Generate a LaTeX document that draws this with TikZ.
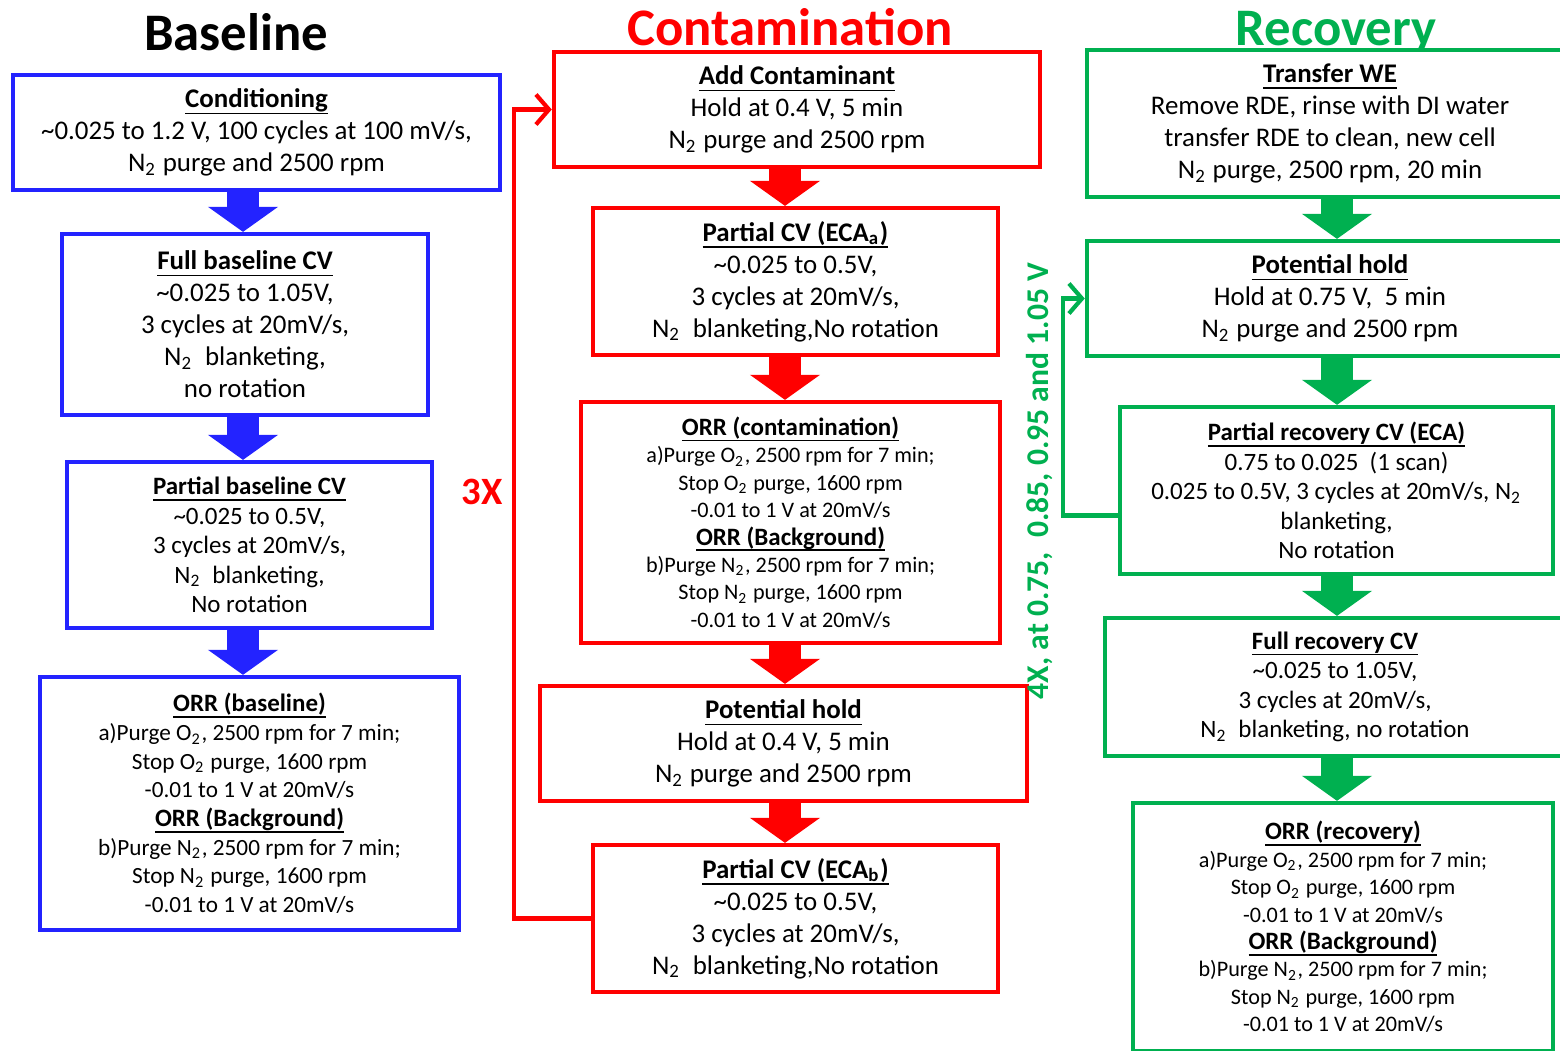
\documentclass[tikz,border=0pt]{standalone}
\usepackage{fontspec}
\setmainfont{Carlito}
\usetikzlibrary{arrows.meta,calc}

\definecolor{blflow}{HTML}{2323FF}
\definecolor{ctflow}{HTML}{FF0000}
\definecolor{rcflow}{HTML}{00B050}

% bold step name with a tight underline
\newlength\titlelen
\newcommand\steptitle[1]{\settowidth\titlelen{\textbf{#1}}\textbf{#1}\llap{\rule[-0.24em]{\titlelen}{0.45pt}}}
\newcommand\bigtxt{\fontsize{7.65pt}{9.1pt}\selectfont}
\newcommand\midtxt{\fontsize{7.1pt}{8.4pt}\selectfont}
\newcommand\orrtxt{\fontsize{6.6pt}{8.15pt}\selectfont}
\newcommand\smalltxt{\fontsize{6.3pt}{7.8pt}\selectfont}
\newcommand\orrhead[1]{{\fontsize{7.1pt}{7.8pt}\selectfont\steptitle{#1}}}
\newcommand\Ntwo{N\textsubscript{2}}
\newcommand\Otwo{O\textsubscript{2}}

\begin{document}
\begin{tikzpicture}[x=0.01cm, y=-0.01cm,
    procbox/.style={draw, line width=1.2pt, align=center, inner sep=0pt, fill=white},
    stepflow/.style={line width=0.32cm, -{Triangle[width=0.7cm, length=0.25cm, line width=0pt]}},
    repeatline/.style={line width=1.2pt, -{Straight Barb[length=0.13cm, width=0.3cm]}},
    coltitle/.style={anchor=base, font=\fontsize{15pt}{18pt}\selectfont\bfseries}]
    \useasboundingbox (0,0) rectangle (1560,1050);
    \clip (0,0) rectangle (1560,1050);

    % column headings
    \node[coltitle] (tbase) at (236,50) {Baseline};
    \node[coltitle, text=ctflow] (tcont) at (790,45) {Contamination};
    \node[coltitle, text=rcflow] (treco) at (1336,45) {Recovery};

    % baseline
    \node[procbox, draw=blflow, minimum width=4.87cm, minimum height=1.15cm, font=\bigtxt] (cond) at (256.5,132.5)
        {\steptitle{Conditioning}\\ \textasciitilde0.025 to 1.2 V, 100 cycles at 100 mV/s,\\ \Ntwo{} purge and 2500 rpm};
    \node[procbox, draw=blflow, minimum width=3.66cm, minimum height=1.81cm, font=\bigtxt] (full) at (245,324.5)
        {\steptitle{Full baseline CV}\\ \textasciitilde0.025 to 1.05V,\\ 3 cycles at 20mV/s,\\ \Ntwo\ \ blanketing,\\ no rotation};
    \node[procbox, draw=blflow, minimum width=3.65cm, minimum height=1.66cm, font=\midtxt] (part) at (249.5,545)
        {\steptitle{Partial baseline CV}\\ \textasciitilde0.025 to 0.5V,\\ 3 cycles at 20mV/s,\\ \Ntwo\ \ blanketing,\\ No rotation};
    \node[procbox, draw=blflow, minimum width=4.19cm, minimum height=2.53cm, font=\orrtxt] (orrb) at (249.5,803.5)
        {\orrhead{ORR (baseline)}\\ a)Purge \Otwo, 2500 rpm for 7 min;\\ Stop \Otwo{} purge, 1600 rpm\\ -0.01 to 1 V at 20mV/s\\
         \orrhead{ORR (Background)}\\ b)Purge \Ntwo, 2500 rpm for 7 min;\\ Stop \Ntwo{} purge, 1600 rpm\\ -0.01 to 1 V at 20mV/s};

    % contamination
    \node[procbox, draw=ctflow, minimum width=4.86cm, minimum height=1.15cm, font=\bigtxt] (add) at (797,109.5)
        {\steptitle{Add Contaminant}\\ Hold at 0.4 V, 5 min\\ \Ntwo{} purge and 2500 rpm};
    \node[procbox, draw=ctflow, minimum width=4.05cm, minimum height=1.47cm, font=\bigtxt] (pcva) at (795.5,281.5)
        {\steptitle{Partial CV (ECA\textsubscript{a})}\\ \textasciitilde0.025 to 0.5V,\\ 3 cycles at 20mV/s,\\ \Ntwo\ \ blanketing,No rotation};
    \node[procbox, draw=ctflow, minimum width=4.19cm, minimum height=2.41cm, font=\smalltxt] (orrc) at (790.5,522.5)
        {\orrhead{ORR (contamination)}\\ a)Purge \Otwo, 2500 rpm for 7 min;\\ Stop \Otwo{} purge, 1600 rpm\\ -0.01 to 1 V at 20mV/s\\
         \orrhead{ORR (Background)}\\ b)Purge \Ntwo, 2500 rpm for 7 min;\\ Stop \Ntwo{} purge, 1600 rpm\\ -0.01 to 1 V at 20mV/s};
    \node[procbox, draw=ctflow, minimum width=4.87cm, minimum height=1.15cm, font=\bigtxt] (hold) at (783.5,743.5)
        {\steptitle{Potential hold}\\ Hold at 0.4 V, 5 min\\ \Ntwo{} purge and 2500 rpm};
    \node[procbox, draw=ctflow, minimum width=4.05cm, minimum height=1.47cm, font=\bigtxt] (pcvb) at (795.5,918.5)
        {\steptitle{Partial CV (ECA\textsubscript{b})}\\ \textasciitilde0.025 to 0.5V,\\ 3 cycles at 20mV/s,\\ \Ntwo\ \ blanketing,No rotation};

    % recovery
    \node[procbox, draw=rcflow, minimum width=4.86cm, minimum height=1.47cm, font=\bigtxt] (trans) at (1330,123.5)
        {\steptitle{Transfer WE}\\ Remove RDE, rinse with DI water\\ transfer RDE to clean, new cell\\ \Ntwo{} purge, 2500 rpm, 20 min};
    \node[procbox, draw=rcflow, minimum width=4.86cm, minimum height=1.15cm, font=\bigtxt] (ghold) at (1330,298.5)
        {\steptitle{Potential hold}\\ Hold at 0.75 V,\ \ 5 min\\ \Ntwo{} purge and 2500 rpm};
    \node[procbox, draw=rcflow, minimum width=4.33cm, minimum height=1.67cm, font=\midtxt] (prec) at (1336.5,490.5)
        {\steptitle{Partial recovery CV (ECA)}\\ 0.75 to 0.025\ \ (1 scan)\\ 0.025 to 0.5V, 3 cycles at 20mV/s, \Ntwo\\ blanketing,\\ No rotation};
    \node[procbox, draw=rcflow, minimum width=4.60cm, minimum height=1.38cm, font=\midtxt] (frec) at (1335,687)
        {\steptitle{Full recovery CV}\\ \textasciitilde0.025 to 1.05V,\\ 3 cycles at 20mV/s,\\ \Ntwo\ \ blanketing, no rotation};
    \node[procbox, draw=rcflow, minimum width=4.20cm, minimum height=2.48cm, font=\smalltxt] (orrr) at (1343,927)
        {\orrhead{ORR (recovery)}\\ a)Purge \Otwo, 2500 rpm for 7 min;\\ Stop \Otwo{} purge, 1600 rpm\\ -0.01 to 1 V at 20mV/s\\
         \orrhead{ORR (Background)}\\ b)Purge \Ntwo, 2500 rpm for 7 min;\\ Stop \Ntwo{} purge, 1600 rpm\\ -0.01 to 1 V at 20mV/s};

    % block arrows down each column
    \coordinate (blcol) at (243,0);
    \coordinate (ctcol) at (785,0);
    \coordinate (rccol) at (1337,0);
    \draw[stepflow, blflow] (cond.south -| blcol) -- (full.north -| blcol);
    \draw[stepflow, blflow] (full.south -| blcol) -- (part.north -| blcol);
    \draw[stepflow, blflow] (part.south -| blcol) -- (orrb.north -| blcol);
    \draw[stepflow, ctflow] (add.south -| ctcol) -- (pcva.north -| ctcol);
    \draw[stepflow, ctflow] (pcva.south -| ctcol) -- (orrc.north -| ctcol);
    \draw[stepflow, ctflow] (orrc.south -| ctcol) -- (hold.north -| ctcol);
    \draw[stepflow, ctflow] (hold.south -| ctcol) -- (pcvb.north -| ctcol);
    \draw[stepflow, rcflow] (trans.south -| rccol) -- (ghold.north -| rccol);
    \draw[stepflow, rcflow] (ghold.south -| rccol) -- (prec.north -| rccol);
    \draw[stepflow, rcflow] (prec.south -| rccol) -- (frec.north -| rccol);
    \draw[stepflow, rcflow] (frec.south -| rccol) -- (orrr.north -| rccol);

    % repeat loops
    \coordinate (ctloop) at (514,0);
    \draw[repeatline, ctflow] (pcvb.west) -- (pcvb.west -| ctloop) -- (add.west -| ctloop) -- (add.west);
    \node[text=ctflow, font=\fontsize{11pt}{13pt}\selectfont\bfseries] (reps) at (482,492) {3X};

    \coordinate (rcloop) at (1063,0);
    \coordinate (rctap) at ($(prec.west)+(0,25)$);
    \draw[repeatline, rcflow] (rctap) -- (rctap -| rcloop) -- (ghold.west -| rcloop) -- (ghold.west);
    \node[rotate=90, text=rcflow, font=\fontsize{9pt}{11pt}\selectfont\bfseries] (hpts) at (1040,481)
        {4X, at 0.75,\ \ 0.85, 0.95 and 1.05 V};
\end{tikzpicture}
\end{document}
